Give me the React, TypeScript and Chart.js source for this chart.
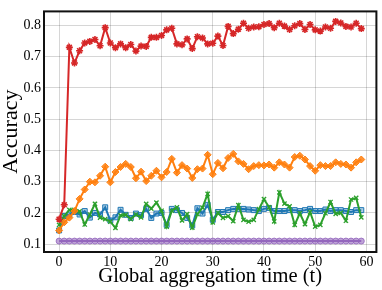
import React, { useEffect, useRef } from "react";
import { Chart, registerables } from "chart.js";

Chart.register(...registerables);

const rounds = [
  0, 1, 2, 3, 4, 5, 6, 7, 8, 9, 10, 11, 12, 13, 14, 15, 16, 17, 18, 19,
  20, 21, 22, 23, 24, 25, 26, 27, 28, 29, 30, 31, 32, 33, 34, 35, 36, 37, 38, 39,
  40, 41, 42, 43, 44, 45, 46, 47, 48, 49, 50, 51, 52, 53, 54, 55, 56, 57, 58, 59,
];

const xTicks = [0, 10, 20, 30, 40, 50, 60];
const yTicks = [0.1, 0.2, 0.3, 0.4, 0.5, 0.6, 0.7, 0.8];

const redSeries = [
  0.18, 0.226, 0.73, 0.68, 0.719, 0.744, 0.749, 0.755, 0.735, 0.793,
  0.744, 0.729, 0.741, 0.729, 0.739, 0.718, 0.734, 0.733, 0.762, 0.762,
  0.768, 0.786, 0.791, 0.741, 0.738, 0.757, 0.726, 0.764, 0.76, 0.741,
  0.743, 0.766, 0.736, 0.797, 0.774, 0.788, 0.807, 0.791, 0.795, 0.796,
  0.803, 0.806, 0.793, 0.807, 0.798, 0.787, 0.799, 0.806, 0.787, 0.803,
  0.786, 0.782, 0.795, 0.791, 0.813, 0.808, 0.797, 0.795, 0.807, 0.79,
];

const orangeSeries = [
  0.144, 0.17, 0.185, 0.206, 0.245, 0.275, 0.3, 0.298, 0.319, 0.348,
  0.298, 0.331, 0.347, 0.357, 0.347, 0.311, 0.332, 0.302, 0.319, 0.335,
  0.314, 0.331, 0.373, 0.329, 0.353, 0.342, 0.312, 0.34, 0.342, 0.386,
  0.324, 0.36, 0.343, 0.376, 0.389, 0.365, 0.357, 0.34, 0.35, 0.353,
  0.352, 0.355, 0.345, 0.362, 0.355, 0.345, 0.379, 0.383, 0.371, 0.35,
  0.335, 0.353, 0.35, 0.35, 0.362, 0.357, 0.355, 0.345, 0.362, 0.371,
];

const blueSeries = [
  0.144, 0.19, 0.195, 0.203, 0.195, 0.206, 0.185, 0.2, 0.195, 0.218,
  0.176, 0.186, 0.21, 0.194, 0.184, 0.198, 0.193, 0.213, 0.184, 0.198,
  0.2, 0.162, 0.213, 0.209, 0.2, 0.184, 0.16, 0.215, 0.198, 0.226,
  0.178, 0.203, 0.203, 0.209, 0.213, 0.213, 0.213, 0.211, 0.209, 0.206,
  0.213, 0.216, 0.206, 0.206, 0.206, 0.209, 0.209, 0.206, 0.209, 0.213,
  0.206, 0.206, 0.211, 0.206, 0.209, 0.209, 0.206, 0.203, 0.209, 0.209,
];

const greenSeries = [
  0.162, 0.19, 0.21, 0.21, 0.205, 0.163, 0.195, 0.229, 0.185, 0.18,
  0.172, 0.152, 0.192, 0.194, 0.18, 0.195, 0.186, 0.229, 0.214, 0.233,
  0.207, 0.156, 0.207, 0.218, 0.176, 0.196, 0.153, 0.196, 0.217, 0.261,
  0.17, 0.2, 0.184, 0.19, 0.174, 0.225, 0.178, 0.172, 0.178, 0.212,
  0.244, 0.218, 0.173, 0.266, 0.23, 0.221, 0.162, 0.199, 0.164, 0.203,
  0.156, 0.162, 0.199, 0.235, 0.197, 0.2, 0.175, 0.243, 0.248, 0.186,
];

const purpleSeries = [
  0.11, 0.11, 0.11, 0.11, 0.11, 0.11, 0.11, 0.11, 0.11, 0.11,
  0.11, 0.11, 0.11, 0.11, 0.11, 0.11, 0.11, 0.11, 0.11, 0.11,
  0.11, 0.11, 0.11, 0.11, 0.11, 0.11, 0.11, 0.11, 0.11, 0.11,
  0.11, 0.11, 0.11, 0.11, 0.11, 0.11, 0.11, 0.11, 0.11, 0.11,
  0.11, 0.11, 0.11, 0.11, 0.11, 0.11, 0.11, 0.11, 0.11, 0.11,
  0.11, 0.11, 0.11, 0.11, 0.11, 0.11, 0.11, 0.11, 0.11, 0.11,
];

const xLabel = "Global aggregation time (t)";
const yLabel = "Accuracy";

const SERIF = '"Liberation Serif", "Times New Roman", serif';

const toPoints = (vals: number[]) => rounds.map((r, i) => ({ x: r, y: vals[i] }));

const framePlugin = {
  id: "frame",
  afterDraw(chart: any) {
    const { ctx, chartArea: a } = chart;
    ctx.save();
    ctx.strokeStyle = "#111";
    ctx.lineWidth = 2;
    ctx.strokeRect(a.left, a.top, a.right - a.left, a.bottom - a.top);
    ctx.restore();
  },
};

export default function App() {
  const ref = useRef<HTMLCanvasElement | null>(null);

  useEffect(() => {
    if (!ref.current) return;
    const gridColor = "rgba(0,0,0,0.16)";
    const chart = new Chart(ref.current, {
      type: "line",
      data: {
        datasets: [
          {
            data: toPoints(redSeries),
            borderColor: "#d62728",
            borderWidth: 2,
            pointStyle: "star",
            pointRadius: 3.5,
            pointBorderWidth: 1.6,
            pointBorderColor: "#d62728",
            pointBackgroundColor: "#d62728",
            tension: 0,
          },
          {
            data: toPoints(orangeSeries),
            borderColor: "#ff7f0e",
            borderWidth: 2,
            pointStyle: "rectRot",
            pointRadius: 3.5,
            pointBorderWidth: 1,
            pointBorderColor: "#ff7f0e",
            pointBackgroundColor: "rgba(255,127,14,0.85)",
            tension: 0,
          },
          {
            data: toPoints(greenSeries),
            borderColor: "#2ca02c",
            borderWidth: 2,
            pointStyle: "crossRot",
            pointRadius: 3,
            pointBorderWidth: 1.3,
            pointBorderColor: "#2ca02c",
            pointBackgroundColor: "#2ca02c",
            tension: 0,
          },
          {
            data: toPoints(blueSeries),
            borderColor: "#1f77b4",
            borderWidth: 2,
            pointStyle: "rect",
            pointRadius: 3.5,
            pointBorderWidth: 1,
            pointBorderColor: "#1f77b4",
            pointBackgroundColor: "rgba(31,119,180,0.35)",
            tension: 0,
          },
          {
            data: toPoints(purpleSeries),
            borderColor: "#9467bd",
            borderWidth: 2,
            pointStyle: "circle",
            pointRadius: 3,
            pointBorderWidth: 1,
            pointBorderColor: "rgba(148,103,189,0.85)",
            pointBackgroundColor: "rgba(148,103,189,0.6)",
            tension: 0,
          },
        ],
      },
      options: {
        responsive: false,
        animation: false,
        layout: { padding: { top: 3, right: 2, left: 0, bottom: 0 } },
        plugins: {
          legend: { display: false },
          tooltip: { enabled: false },
        },
        scales: {
          x: {
            type: "linear",
            min: -2.95,
            max: 61.95,
            afterBuildTicks: (axis: any) => {
              axis.ticks = xTicks.map((v) => ({ value: v }));
            },
            afterFit: (s: any) => {
              s.height = 38;
            },
            grid: { color: gridColor, lineWidth: 1, drawTicks: false },
            border: { display: false },
            ticks: {
              color: "#000",
              padding: 2,
              font: { family: SERIF, size: 14 },
              callback: (v: any) => String(v),
            },
            title: {
              display: true,
              text: xLabel,
              color: "#000",
              font: { family: SERIF, size: 20.5, lineHeight: 1 },
              padding: { top: 0, bottom: 3 },
            },
          },
          y: {
            type: "linear",
            min: 0.075,
            max: 0.845,
            afterBuildTicks: (axis: any) => {
              axis.ticks = yTicks.map((v) => ({ value: v }));
            },
            afterFit: (s: any) => {
              s.width = 44;
            },
            grid: { color: gridColor, lineWidth: 1, drawTicks: false },
            border: { display: false },
            ticks: {
              color: "#000",
              padding: 3,
              font: { family: SERIF, size: 14 },
              callback: (v: any) => Number(v).toFixed(1),
            },
            title: {
              display: true,
              text: yLabel,
              color: "#000",
              font: { family: SERIF, size: 22, lineHeight: 1 },
              padding: { top: 0, bottom: 0 },
            },
          },
        },
      },
      plugins: [framePlugin],
    } as any);
    return () => chart.destroy();
  }, []);

  return (
    <div style={{ position: "absolute", left: 0, top: 0, width: 382, height: 290 }}>
      <canvas ref={ref} width={382} height={290} />
    </div>
  );
}
